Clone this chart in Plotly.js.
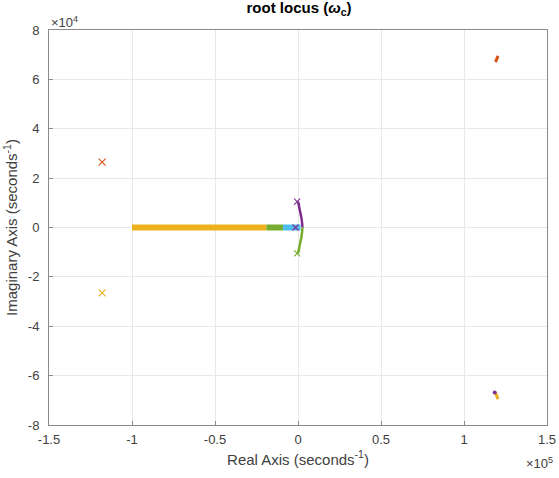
<!DOCTYPE html>
<html><head><meta charset="utf-8">
<script src="https://cdn.plot.ly/plotly-3.0.1.min.js"></script>
<style>html,body{margin:0;padding:0;background:#fff}#plot{width:559px;height:478px}</style>
</head><body><div id="plot"></div>
<script>
// Branches (real, imag) in seconds^-1
const yellowRe = [-100000, -80000, -60000, -40000, -19000];
const yellowIm = [0, 0, 0, 0, 0];
const greenRe = [-19000, -15000, -9000];
const greenIm = [0, 0, 0];
const blueRe = [-9000, -4000, 1500];
const blueIm = [0, 0, 0];
const purpleArcRe = [0, 800, 1500, 2100, 2500, 2700];
const purpleArcIm = [10500, 8200, 6000, 3800, 1600, 0];
const greenArcRe = [0, 800, 1500, 2100, 2500, 2700];
const greenArcIm = [-10500, -8200, -6000, -3800, -1600, 0];
const orangeFarRe = [119000, 120500];
const orangeFarIm = [67000, 69500];
const yellowFarRe = [119000, 120500];
const yellowFarIm = [-67000, -69500];
const purpleFarRe = [118500];
const purpleFarIm = [-66800];
// Poles (x markers)
const orangePoleRe = [-118000]; const orangePoleIm = [26500];
const yellowPoleRe = [-118000]; const yellowPoleIm = [-26500];
const purplePoleRe = [-500, -1500]; const purplePoleIm = [10500, 0];
const greenPoleRe = [-500]; const greenPoleIm = [-10500];
// Ticks
const xTickVals = [-150000, -100000, -50000, 0, 50000, 100000, 150000];
const xTickText = ['-1.5', '-1', '-0.5', '0', '0.5', '1', '1.5'];
const yTickVals = [-80000, -60000, -40000, -20000, 0, 20000, 40000, 60000, 80000];
const yTickText = ['-8', '-6', '-4', '-2', '0', '2', '4', '6', '8'];

const C = {blue:'#4DBEEE', orange:'#D95319', yellow:'#EDB120', purple:'#7E2F8E', green:'#77AC30'};
function line(x, y, color, w) {
  return {x, y, type:'scatter', mode:'lines', line:{color, width:w}, hoverinfo:'skip'};
}
function pole(x, y, color, sz) {
  return {x, y, type:'scatter', mode:'markers', marker:{symbol:'x-thin-open', size:sz||7, line:{color, width:1.1}, color}, hoverinfo:'skip'};
}
const data = [
  line(yellowRe, yellowIm, C.yellow, 6),
  line(greenRe, greenIm, C.green, 6),
  line(blueRe, blueIm, C.blue, 6),
  line(purpleArcRe, purpleArcIm, C.purple, 2.5),
  line(greenArcRe, greenArcIm, C.green, 2.5),
  line(orangeFarRe, orangeFarIm, C.orange, 3),
  line(yellowFarRe, yellowFarIm, C.yellow, 3),
  {x: purpleFarRe, y: purpleFarIm, type:'scatter', mode:'markers', marker:{color:C.purple, size:4}, hoverinfo:'skip'},
  pole(orangePoleRe, orangePoleIm, C.orange),
  pole(yellowPoleRe, yellowPoleIm, C.yellow),
  pole(purplePoleRe, purplePoleIm, C.purple, 6),
  pole(greenPoleRe, greenPoleIm, C.green, 6)
];
const axisCommon = {showline:true, mirror:true, linecolor:'#8a8a8a', linewidth:1, ticks:'inside', ticklen:4, tickcolor:'#8a8a8a',
  showgrid:true, gridcolor:'#e8e8e8', zeroline:false, tickfont:{family:'Liberation Sans, Arial', size:13, color:'#404040'}};
const layout = {
  width:559, height:478, margin:{l:49, r:12, t:30, b:53},
  paper_bgcolor:'#fff', plot_bgcolor:'#fff', showlegend:false,
  font:{family:'Liberation Sans, Arial', color:'#262626'},
  title:{text:'<b>root locus (<i>ω</i><sub>c</sub>)</b>', x:0.535, xanchor:'center', y:0.995, yanchor:'top', font:{size:15, color:'#000'}},
  xaxis: Object.assign({}, axisCommon, {range:[-150000,150000], tickvals:xTickVals, ticktext:xTickText, ticklabelstandoff:2,
    title:{text:'Real Axis (seconds<sup>-1</sup>)', font:{size:15, color:'#404040'}, standoff:8}}),
  yaxis: Object.assign({}, axisCommon, {range:[-80000,80000], tickvals:yTickVals, ticktext:yTickText, ticklabelstandoff:6,
    title:{text:'Imaginary Axis (seconds<sup>-1</sup>)', font:{size:15, color:'#404040'}, standoff:6}}),
  annotations:[
    {xref:'paper', yref:'paper', x:0, y:1, xanchor:'left', yanchor:'bottom', text:'×10<sup>4</sup>', showarrow:false, font:{size:13, color:'#404040'}, yshift:-2, xshift:0},
    {xref:'paper', yref:'paper', x:1, y:0, xanchor:'right', yanchor:'top', text:'×10<sup>5</sup>', showarrow:false, font:{size:13, color:'#404040'}, yshift:-28, xshift:8}
  ]
};
Plotly.newPlot('plot', data, layout, {staticPlot:true, displayModeBar:false});
</script></body></html>
